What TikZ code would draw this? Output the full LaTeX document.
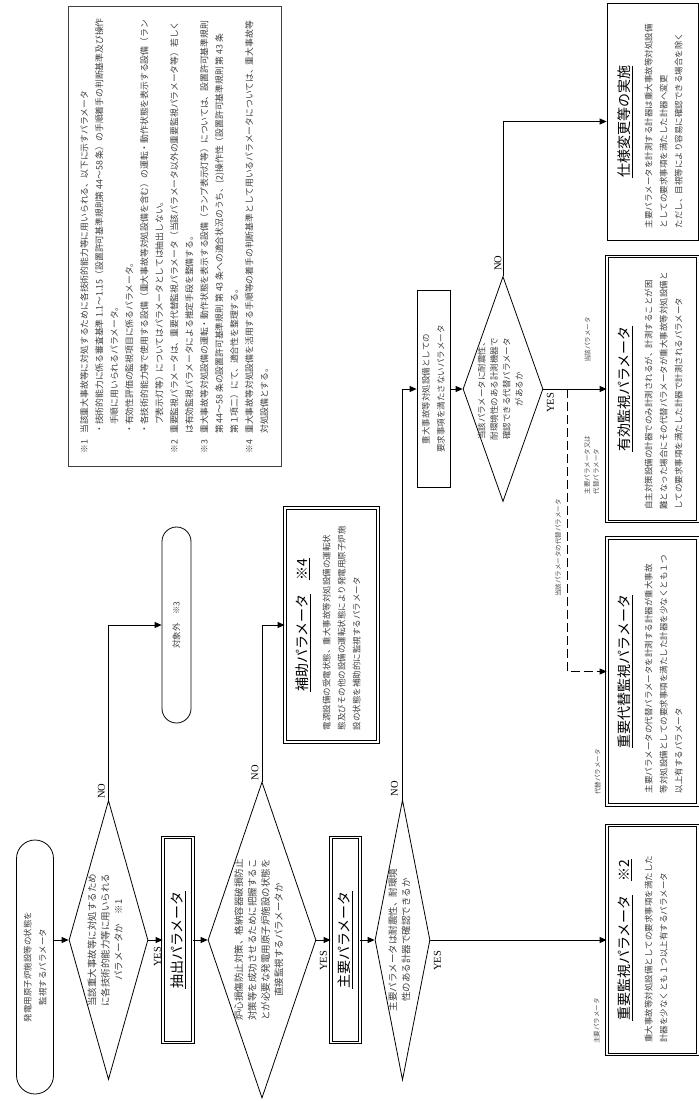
\documentclass[tikz,border=0pt]{standalone}
\usepackage{fontspec}
\setmainfont{Noto Sans CJK JP}
\newfontfamily\yesnofont{Liberation Serif}
\usetikzlibrary{shapes.geometric,shapes.misc,arrows.meta,calc}

% text of a decision, kept out of the size of the diamond
\newcommand{\dtext}[1]{\smash{\makebox[0pt]{\begin{tabular}{@{}c@{}}#1\end{tabular}}}}
% title and body of a parameter box
\newcommand{\boxbody}[4]{%
  \parbox[c][#2][t]{#1}{\centering\fontsize{14}{16}\selectfont #3\par
    \vspace{7pt}\raggedright\fontsize{8.5}{15}\selectfont\color{black!75}#4\par}}

\tikzset{
  flow/.style={-{Triangle[length=7pt,width=6pt]}},
  decision/.style={diamond, draw, inner sep=0pt, rotate=90, text=black!75, font=\fontsize{9.5}{13.3}\selectfont},
  term/.style={rounded rectangle, draw, inner sep=0pt, rotate=90, align=center, text=black!75, font=\fontsize{8.5}{15}\selectfont},
  param/.style={draw, double, double distance=1.8pt, inner sep=0pt, rotate=90, font=\fontsize{14}{16}\selectfont},
  plain/.style={draw, inner sep=0pt, rotate=90, align=center},
  yesno/.style={rotate=90, inner sep=0pt, font=\yesnofont\fontsize{10.5}{12}\selectfont},
  elabel/.style={rotate=90, inner sep=0pt, align=left, text=black!70, font=\fontsize{6.5}{9}\selectfont},
}

\begin{document}
\begin{tikzpicture}[x=1pt,y=1pt,line width=0.8pt]
\useasboundingbox (0,0) rectangle (699,-1101);

% main column
\node(start) at (35,-967)[term, minimum width=254pt, minimum height=37pt] {発電用原子炉施設等の状態を\\監視するパラメータ};
\node(d1) at (108.5,-940)[decision, minimum width=279pt, minimum height=79pt] {\dtext{当該重大事故等に対処するため\\に各技術的能力等に用いられる\\パラメータか　※1}};
\node(extract) at (178,-940)[param, minimum width=205pt, minimum height=30pt] {\underline{抽出パラメータ}};
\node(d2) at (262,-940)[decision, minimum width=316pt, minimum height=108pt] {\dtext{炉心損傷防止対策、格納容器破損防止\\対策等を成功させるために把握するこ\\とが必要な発電用原子炉施設の状態を\\直接監視するパラメータか}};
\node(main) at (345.5,-940)[param, minimum width=205pt, minimum height=29pt] {\underline{主要パラメータ}};
\node(d3) at (402.5,-940)[decision, minimum width=280pt, minimum height=55pt] {\dtext{主要パラメータは耐震性、耐環境\\性のある計器で確認できるか}};
\node(important) at (652.5,-940)[param, minimum width=229pt, minimum height=91pt, inner xsep=12pt, inner ysep=11pt] {\boxbody{205pt}{69pt}{\underline{重要監視パラメータ}\quad\underline{※2}}{重大事故等対処設備としての要求事項を満たした\\計器を少なくとも１つ以上有するパラメータ}};

% NO branches
\node(out) at (176.5,-625)[term, minimum width=196pt, minimum height=29pt] {対象外　※3};
\node(aux) at (331.5,-625)[param, minimum width=234pt, minimum height=93pt, inner xsep=12pt, inner ysep=11pt] {\boxbody{210pt}{71pt}{\underline{補助パラメータ}\quad\underline{※4}}{電源設備の受電状態、重大事故等対処設備の運転状\\態及びその他の設備の運転状態により発電用原子炉施\\設の状態を補助的に監視するパラメータ}};
\node(notmet) at (433.5,-389)[plain, minimum width=197pt, minimum height=33pt, text=black!75, font=\fontsize{8.5}{15}\selectfont] {重大事故等対処設備としての\\要求事項を満たさないパラメータ};
\node(d4) at (503,-389)[decision, minimum width=225pt, minimum height=80pt, font=\fontsize{8.5}{12.5}\selectfont] {\dtext{当該パラメータに耐震性、\\耐環境性のある計測機器で\\確認できる代替パラメータ\\があるか}};
\node(effective) at (652.5,-389)[param, minimum width=265pt, minimum height=91pt, inner xsep=12pt, inner ysep=11pt] {\boxbody{241pt}{69pt}{\underline{有効監視パラメータ}}{自主対策設備の計器でのみ計測されるが、計測することが困\\難となった場合にその代替パラメータが重大事故等対処設備と\\しての要求事項を満たした計器で計測されるパラメータ}};
\node(altimp) at (652.5,-671.5)[param, minimum width=267pt, minimum height=91pt, inner xsep=12pt, inner ysep=11pt] {\boxbody{243pt}{69pt}{\underline{重要代替監視パラメータ}}{主要パラメータの代替パラメータを計測する計器が重大事故\\等対処設備としての要求事項を満たした計器を少なくとも１つ\\以上有するパラメータ}};
\node(modify) at (652.5,-121.5)[plain, minimum width=237pt, minimum height=91pt, inner xsep=12pt, inner ysep=11pt] {\boxbody{213pt}{69pt}{\underline{仕様変更等の実施}}{主要パラメータを計測する計器は重大事故等対処設備\\としての要求事項を満たした計器へ変更\\ただし、目視等により容易に確認できる場合を除く}};

% notes
\node(notes) at (174.5,-236)[rotate=90, draw=black!75, line width=1pt, minimum width=460pt, minimum height=213pt, inner sep=0pt, text=black!75, font=\fontsize{8.8}{15}\selectfont] {%
\begin{tabular}{@{}p{20pt}@{}l@{}}
※1 & 当該重大事故等に対処するために各技術的能力等に用いられる、以下に示すパラメータ\\
    & ・技術的能力に係る審査基準 1.1～1.15（設置許可基準規則第 44～58 条）の手順着手の判断基準及び操作\\
    & 　手順に用いられるパラメータ。\\
    & ・有効性評価の監視項目に係るパラメータ。\\
    & ・各技術的能力等で使用する設備（重大事故等対処設備を含む）の運転・動作状態を表示する設備（ラン\\
    & 　プ表示灯等）についてはパラメータとしては抽出しない。\\
※2 & 重要監視パラメータは、重要代替監視パラメータ（当該パラメータ以外の重要監視パラメータ等）若しく\\
    & は有効監視パラメータによる推定手段を整備する。\\
※3 & 重大事故等対処設備の運転・動作状態を表示する設備（ランプ表示灯等）については、設置許可基準規則\\
    & 第 44～58 条の設置許可基準規則 第 43 条への適合状況のうち、(2)操作性（設置許可基準規則 第 43 条\\
    & 第１項二）にて、適合性を整理する。\\
※4 & 重大事故等対処設備を活用する手順等の着手の判断基準として用いるパラメータについては、重大事故等\\
    & 対処設備とする。
\end{tabular}};

% connectors
\path [flow]
  (start.south |- d1.north) edge (d1.north)
  (d1.south)      edge (extract.north)
  (extract.south) edge (d2.north)
  (d2.south)      edge (main.north)
  (main.south)    edge (d3.north)
  (d3.south)      edge (important.north)
  (notmet.south)  edge (d4.north)
  (d4.south)      edge (effective.north);
\draw[flow] (d1.east) |- (out.north);
\draw[flow] (d2.east) |- (aux.north);
\draw[flow] (d3.east) |- (notmet.north);
\draw[flow] (d4.east) |- (modify.north);
\coordinate (split) at ($(d4.south)!0.375!(effective.north)$);
\draw[flow, dash pattern=on 9pt off 4pt] (split) |- (altimp.north);

% YES / NO
\node(y1) at ($(d1.south)+(9,-17)$)[yesno] {YES};
\node(y2) at ($(d2.south)+(7,-21)$)[yesno] {YES};
\node(y3) at ($(d3.south)+(7,-21)$)[yesno] {YES};
\node(y4) at ($(d4.south)+(7,-14)$)[yesno] {YES};
\node(n1) at ($(d1.east)+(-7,9)$)[yesno] {NO};
\node(n2) at ($(d2.east)+(-7,9)$)[yesno] {NO};
\node(n3) at ($(d3.east)+(-8,11)$)[yesno] {NO};
\node(n4) at ($(d4.east)+(-5,13)$)[yesno] {NO};

% connector labels
\node(l1) at ($(important.north)+(-10,-81)$)[elabel] {主要パラメータ};
\node(l2) at ($(effective.north)+(-19,49)$)[elabel] {当該パラメータ};
\node(l3) at ($(effective.north)+(-15,-76)$)[elabel] {主要パラメータ又は\\代替パラメータ};
\node(l4) at ($(split)+(-9,-159)$)[elabel] {当該パラメータの代替パラメータ};
\node(l5) at ($(altimp.north)+(-9,-100.5)$)[elabel] {代替パラメータ};
\end{tikzpicture}
\end{document}
